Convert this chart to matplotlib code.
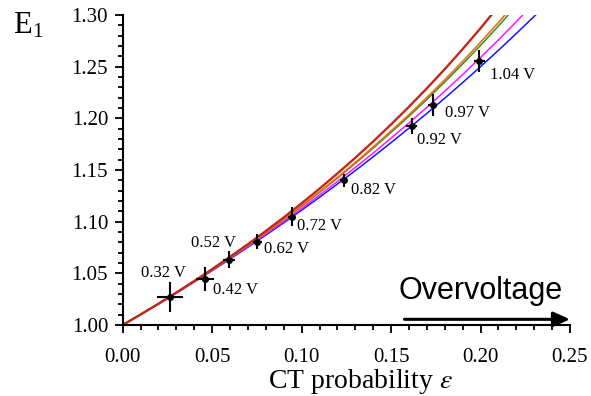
import matplotlib
matplotlib.use("Agg")
import matplotlib.pyplot as plt
from matplotlib.ticker import MultipleLocator, FormatStrFormatter

plt.rcParams['font.family'] = ['Liberation Serif', 'DejaVu Serif']
plt.rcParams['mathtext.fontset'] = 'stix'

# ---- model curves ----
eps_grid = [0.00, 0.01, 0.02, 0.03, 0.04, 0.05, 0.06, 0.07, 0.08, 0.09, 0.10,
            0.11, 0.12, 0.13, 0.14, 0.15, 0.16, 0.17, 0.18, 0.19, 0.20, 0.21,
            0.22, 0.23, 0.24]
e1_blue = [1.0000, 1.0101, 1.0204, 1.0309, 1.0417, 1.0526, 1.0638, 1.0753, 1.0870,
           1.0989, 1.1111, 1.1236, 1.1364, 1.1494, 1.1628, 1.1765, 1.1905, 1.2048,
           1.2195, 1.2346, 1.2500, 1.2658, 1.2821, 1.2987, 1.3158]
e1_magenta = [1.0000, 1.0101, 1.0204, 1.0311, 1.0419, 1.0530, 1.0644, 1.0760, 1.0880,
              1.1002, 1.1128, 1.1257, 1.1389, 1.1524, 1.1664, 1.1808, 1.1955, 1.2106,
              1.2262, 1.2423, 1.2589, 1.2759, 1.2935, 1.3116]
e1_green = [1.0000, 1.0101, 1.0205, 1.0312, 1.0422, 1.0534, 1.0651, 1.0769, 1.0892,
            1.1019, 1.1149, 1.1283, 1.1421, 1.1564, 1.1711, 1.1864, 1.2020, 1.2183,
            1.2351, 1.2526, 1.2706, 1.2893, 1.3088, 1.3289]
e1_orange = [1.0000, 1.0101, 1.0205, 1.0313, 1.0423, 1.0535, 1.0652, 1.0772, 1.0895,
             1.1023, 1.1154, 1.1290, 1.1429, 1.1573, 1.1723, 1.1877, 1.2036, 1.2202,
             1.2373, 1.2551, 1.2736, 1.2927, 1.3126]
e1_red = [1.0000, 1.0102, 1.0206, 1.0314, 1.0426, 1.0541, 1.0660, 1.0782, 1.0910,
          1.1041, 1.1178, 1.1319, 1.1466, 1.1618, 1.1776, 1.1941, 1.2112, 1.2290,
          1.2476, 1.2670, 1.2872, 1.3084, 1.3306]

# ---- measured points ----
labels = ['0.32 V', '0.42 V', '0.52 V', '0.62 V', '0.72 V', '0.82 V', '0.92 V', '0.97 V', '1.04 V']
pt_eps = [0.0264, 0.0458, 0.0595, 0.0752, 0.0945, 0.1236, 0.1615, 0.1733, 0.1993]
pt_e1 = [1.0274, 1.0448, 1.0632, 1.0805, 1.1048, 1.1400, 1.1926, 1.2129, 1.2552]
pt_xerr = [0.0075, 0.0050, 0.0035, 0.0025, 0.0020, 0.0020, 0.0030, 0.0025, 0.0030]
pt_yerr = [0.0145, 0.0115, 0.0080, 0.0072, 0.0090, 0.0065, 0.0080, 0.0105, 0.0105]

x_ticks = [0.00, 0.05, 0.10, 0.15, 0.20, 0.25]
y_ticks = [1.00, 1.05, 1.10, 1.15, 1.20, 1.25, 1.30]

W, H = 591, 396
fig = plt.figure(figsize=(W / 100, H / 100), dpi=100)
ax = fig.add_axes([122.7 / W, 71 / H, (570 - 122.7) / W, 310 / H])

ax.plot(eps_grid[:len(e1_blue)], e1_blue, color='#1414ff', lw=1.1, zorder=2)
ax.plot(eps_grid[:len(e1_magenta)], e1_magenta, color='#ff14ff', lw=1.1, zorder=2)
ax.plot(eps_grid[:len(e1_green)], e1_green, color='#3c8c1e', lw=1.1, zorder=2)
ax.plot(eps_grid[:len(e1_orange)], e1_orange, color='#ec7014', lw=1.2, zorder=2)
ax.plot(eps_grid[:len(e1_red)], e1_red, color='#c0281a', lw=1.7, zorder=2)

ax.errorbar(pt_eps, pt_e1, xerr=pt_xerr, yerr=pt_yerr, fmt='o', color='black',
            ms=4, elinewidth=1.5, capsize=0, zorder=3)

# label offsets in points (dx, dy) and alignment
offs = [(-5, 17, 'center', 'center'), (6, -8, 'left', 'center'), (-11, 12, 'center', 'center'),
        (5, -5, 'left', 'center'), (4, -7, 'left', 'center'), (5, -7, 'left', 'center'),
        (4, -10, 'left', 'center'), (9, -6, 'left', 'center'), (8, -10, 'left', 'center')]
for lab, x, y, (dx, dy, ha, va) in zip(labels, pt_eps, pt_e1, offs):
    ax.annotate(lab, (x, y), xytext=(dx, dy), textcoords='offset points',
                ha=ha, va=va, fontsize=12)

ax.set_xlim(0, 0.25)
ax.set_ylim(1.0, 1.3)
ax.set_xticks(x_ticks)
ax.set_yticks(y_ticks)
ax.xaxis.set_major_formatter(FormatStrFormatter('%.2f'))
ax.yaxis.set_major_formatter(FormatStrFormatter('%.2f'))
ax.xaxis.set_minor_locator(MultipleLocator(0.01))
ax.yaxis.set_minor_locator(MultipleLocator(0.01))
ax.tick_params(which='major', direction='out', length=5.5, width=1.3, labelsize=15)
ax.tick_params(which='minor', direction='out', length=3.6, width=1.3)
ax.tick_params(axis='x', which='major', pad=11)
ax.tick_params(axis='y', which='major', pad=5)
for s in ['top', 'right']:
    ax.spines[s].set_visible(False)
for s in ['left', 'bottom']:
    ax.spines[s].set_linewidth(1.5)

fig.text(360 / W, 1 - 381 / H, r'CT probability $\varepsilon$', ha='center', va='center',
         fontsize=20)
fig.text(13 / W, 1 - 26 / H, r'E$_\mathregular{1}$', ha='left', va='center', fontsize=22)

ax.annotate('', xy=(0.25, 1.0055), xytext=(0.1575, 1.0055),
            arrowprops=dict(arrowstyle='-|>,head_length=1.0,head_width=0.45',
                            color='black', lw=2.2, shrinkA=0, shrinkB=0),
            annotation_clip=False)
fig.text(481 / W, 1 - 291 / H, 'Overvoltage', ha='center', va='center',
         fontsize=22, family='Liberation Sans')

fig.savefig('out.png', dpi=100)
